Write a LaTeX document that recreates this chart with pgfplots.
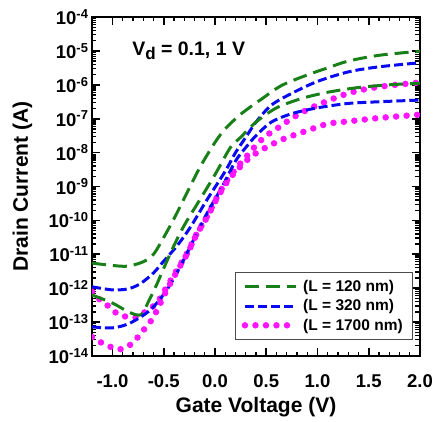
\documentclass[border=0pt]{standalone}
\usepackage{fontspec}
\setmainfont{Liberation Sans}
\usepackage{pgfplots}
\pgfplotsset{compat=1.18}
\definecolor{mygreen}{RGB}{25,128,25}
\definecolor{myblue}{RGB}{10,10,240}
\definecolor{mymag}{RGB}{255,20,255}
\begin{document}
\begin{tikzpicture}
\begin{axis}[
  at={(0,0)}, anchor=south west,
  scale only axis, width=328pt, height=339pt,
  xmin=-1.2, xmax=2.0, ymin=1e-14, ymax=1e-4, ymode=log,
  xtick={-1,-0.5,0,0.5,1,1.5,2},
  xticklabels={-1.0,-0.5,0.0,0.5,1.0,1.5,2.0},
  minor x tick num=4,
  ytick={1e-14,1e-13,1e-12,1e-11,1e-10,1e-9,1e-8,1e-7,1e-6,1e-5,1e-4},
  yticklabels={10\textsuperscript{-14},10\textsuperscript{-13},10\textsuperscript{-12},10\textsuperscript{-11},10\textsuperscript{-10},10\textsuperscript{-9},10\textsuperscript{-8},10\textsuperscript{-7},10\textsuperscript{-6},10\textsuperscript{-5},10\textsuperscript{-4}},
  tick pos=both, tick align=inside,
  major tick length=8pt, minor tick length=4.5pt,
  every major tick/.style={black, line width=1.8pt},
  every minor tick/.style={black, line width=1.3pt},
  axis line style={line width=2pt},
  tick label style={font=\fontsize{18.5}{20}\selectfont\bfseries},
  xticklabel style={yshift=-15pt},
  label style={font=\fontsize{21}{24}\selectfont\bfseries},
  xlabel={Gate Voltage (V)}, ylabel={Drain Current (A)},
  xlabel style={at={(axis description cs:0.5,-0.150)}, anchor=center},
  ylabel style={at={(axis description cs:-0.212,0.5)}, anchor=center},
  legend cell align=left,
  legend image code/.code={\draw[#1] (0pt,0pt) -- (51pt,0pt);},
  legend style={at={(0.979,0.047)}, anchor=south east,
    font=\fontsize{15.5}{17}\selectfont\bfseries,
    draw=gray!60!black, line width=0.8pt, inner xsep=6pt, inner ysep=6pt,
    row sep=2.5pt,
    nodes={inner xsep=4pt}},
  gstyle/.style={mygreen, line width=3pt, dash pattern=on 14pt off 7pt, smooth, tension=0.5},
  bstyle/.style={myblue, line width=3pt, dash pattern=on 9pt off 4pt, smooth, tension=0.5},
  mstyle/.style={mymag, line width=6.5pt, line cap=round, dash pattern=on 0pt off 10.5pt, smooth, tension=0.5},
]
% Vd = 1 V
\addplot[gstyle] coordinates {
(-1.2,5.50e-12) (-1.0,4.68e-12) (-0.85,4.47e-12) (-0.7,6.03e-12) (-0.6,1.0e-11)
(-0.5,3.16e-11) (-0.4,1.12e-10) (-0.3,4.47e-10) (-0.15,3.55e-9) (0.0,2.0e-8)
(0.1,5.01e-8) (0.25,1.35e-7) (0.45,3.72e-7) (0.65,9.55e-7) (0.9,1.95e-6)
(1.1,3.16e-6) (1.3,5.01e-6) (1.6,7.41e-6) (2.0,9.8e-6)};
\addlegendentry{(L = 120 nm)}
\addplot[bstyle] coordinates {
(-1.2,1.10e-12) (-1.0,8.91e-13) (-0.85,9.55e-13) (-0.73,1.35e-12) (-0.6,2.82e-12)
(-0.5,6.31e-12) (-0.37,1.78e-11) (-0.24,6.31e-11) (-0.08,3.98e-10) (0.1,2.82e-9)
(0.2,1.0e-8) (0.3,2.82e-8) (0.4,7.94e-8) (0.55,2.51e-7) (0.75,5.62e-7)
(1.0,1.26e-6) (1.3,2.40e-6) (1.6,3.39e-6) (2.0,4.47e-6)};
\addlegendentry{(L = 320 nm)}
\addplot[mstyle] coordinates {
(-1.2,7.94e-13) (-1.12,4.47e-13) (-1.03,2.82e-13) (-0.95,1.74e-13) (-0.85,1.41e-13)
(-0.75,1.41e-13) (-0.66,2.29e-13) (-0.57,3.55e-13) (-0.47,1.10e-12) (-0.37,3.47e-12)
(-0.27,1.10e-11) (-0.18,3.98e-11) (-0.08,1.26e-10) (0.02,4.90e-10) (0.12,1.55e-9)
(0.22,3.80e-9) (0.34,1.0e-8) (0.41,1.78e-8) (0.5,3.16e-8) (0.6,5.01e-8)
(0.76,1.07e-7) (0.96,2.24e-7) (1.3,5.62e-7) (1.6,8.71e-7) (2.0,1.17e-6)};
\addlegendentry{(L = 1700 nm)}
% Vd = 0.1 V
\addplot[gstyle, forget plot] coordinates {
(-1.2,6.31e-13) (-1.0,3.63e-13) (-0.83,1.91e-13) (-0.72,1.66e-13) (-0.65,3.98e-13)
(-0.57,1.26e-12) (-0.44,1.0e-11) (-0.31,6.31e-11) (-0.15,3.98e-10) (0.0,2.24e-9)
(0.15,1.41e-8) (0.25,2.82e-8) (0.4,7.94e-8) (0.6,2.09e-7) (0.85,3.98e-7)
(1.1,6.03e-7) (1.4,8.32e-7) (1.7,1.0e-6) (2.0,1.12e-6)};
\addplot[bstyle, forget plot] coordinates {
(-1.2,7.24e-14) (-1.0,6.76e-14) (-0.83,9.33e-14) (-0.63,2.29e-13) (-0.47,8.91e-13)
(-0.34,4.27e-12) (-0.21,2.63e-11) (-0.08,1.58e-10) (0.08,1.12e-9) (0.2,5.62e-9)
(0.3,1.41e-8) (0.4,3.16e-8) (0.55,7.94e-8) (0.75,1.41e-7) (1.0,2.09e-7)
(1.3,2.82e-7) (1.6,3.16e-7) (2.0,3.55e-7)};
\addplot[mstyle, forget plot] coordinates {
(-1.2,3.63e-14) (-1.1,2.40e-14) (-0.95,1.58e-14) (-0.85,1.91e-14) (-0.76,3.39e-14)
(-0.68,6.76e-14) (-0.61,1.26e-13) (-0.55,2.82e-13) (-0.47,8.91e-13) (-0.37,3.16e-12)
(-0.27,1.05e-11) (-0.18,3.80e-11) (-0.08,1.20e-10) (0.02,4.47e-10) (0.12,1.41e-9)
(0.22,3.16e-9) (0.32,6.31e-9) (0.42,1.05e-8) (0.51,1.48e-8) (0.6,2.04e-8)
(0.7,2.75e-8) (0.9,4.47e-8) (1.1,7.08e-8) (1.3,8.32e-8) (1.6,1.05e-7) (2.0,1.32e-7)};
\node[anchor=west, font=\fontsize{19.5}{22}\selectfont\bfseries] at (rel axis cs:0.112,0.9)
  {V\raisebox{-0.38ex}{\fontsize{17}{17}\selectfont d} = 0.1, 1 V};
\end{axis}
\pgfresetboundingbox
\path[use as bounding box] (-92pt,-66pt) rectangle (348pt,356pt);
\end{tikzpicture}
\end{document}
